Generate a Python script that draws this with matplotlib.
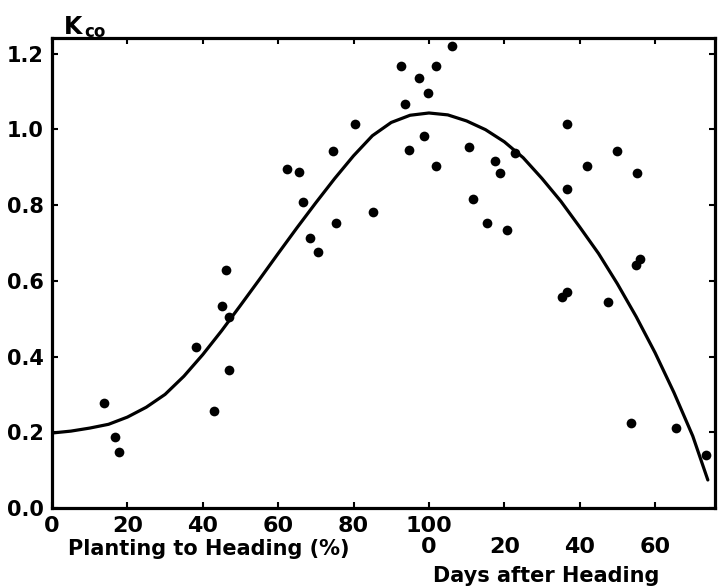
import matplotlib
matplotlib.use("Agg")
import matplotlib.pyplot as plt

# Combined growth scale: 0-100 = planting to heading (%), 100+d = d days after heading
point_x = [13.8, 16.7, 17.8, 38.2, 43.0, 45.1, 46.2, 46.9, 46.9,
           62.3, 65.5, 66.6, 68.4, 70.6, 74.5, 75.3, 80.4, 85.1,
           92.6, 93.6, 94.7, 97.3, 98.7, 99.7, 101.9, 101.9, 106.1,
           110.6, 111.7, 115.4, 117.5, 118.8, 120.7, 122.8,
           135.3, 136.6, 136.6, 136.6, 141.9, 147.5, 149.9, 153.6,
           155.2, 154.9, 156.0, 165.5, 173.5]
point_y = [0.277, 0.187, 0.148, 0.425, 0.256, 0.533, 0.628, 0.504, 0.364,
           0.895, 0.887, 0.808, 0.713, 0.676, 0.943, 0.752, 1.014, 0.781,
           1.167, 1.067, 0.945, 1.135, 0.982, 1.096, 1.167, 0.903, 1.220,
           0.953, 0.816, 0.752, 0.916, 0.884, 0.734, 0.937,
           0.557, 1.014, 0.842, 0.570, 0.903, 0.544, 0.943, 0.224,
           0.884, 0.642, 0.657, 0.211, 0.140]

curve_x = [0, 5, 10, 15, 20, 25, 30, 35, 40, 45, 50, 55, 60, 65, 70, 75, 80,
           85, 90, 95, 100, 105, 110, 115, 120, 125, 130, 135, 140, 145, 150,
           155, 160, 165, 170, 174]
curve_y = [0.198, 0.203, 0.211, 0.221, 0.240, 0.266, 0.300, 0.348, 0.405,
           0.468, 0.535, 0.603, 0.672, 0.740, 0.806, 0.870, 0.930, 0.983,
           1.018, 1.037, 1.043, 1.038, 1.022, 0.999, 0.967, 0.925, 0.870,
           0.810, 0.742, 0.672, 0.592, 0.505, 0.410, 0.305, 0.190, 0.074]

xtick_pos = [0, 20, 40, 60, 80, 100, 120, 140, 160]
xtick_labels = ["0", "20", "40", "60", "80", "100\n0", "\n20", "\n40", "\n60"]
ytick_pos = [0.0, 0.2, 0.4, 0.6, 0.8, 1.0, 1.2]
ytick_labels = ["0.0", "0.2", "0.4", "0.6", "0.8", "1.0", "1.2"]

plt.rcParams['font.family'] = ['DejaVu Sans']
fig = plt.figure(figsize=(7.18, 5.88), dpi=100)
ax = fig.add_axes([52/718, 1-508/588, (715-52)/718, (508-38)/588])

ax.plot(curve_x, curve_y, color='black', lw=2.3, solid_capstyle='round',
        solid_joinstyle='round')
ax.plot(point_x, point_y, 'o', color='black', ms=7, mew=0)

ax.set_xlim(0, 175.9)
ax.set_ylim(0, 1.241)
for s in ax.spines.values():
    s.set_linewidth(2.3)

ax.set_xticks(xtick_pos)
ax.set_xticklabels(xtick_labels, fontsize=16, fontweight='bold', linespacing=1.05)
ax.set_yticks(ytick_pos)
ax.set_yticklabels(ytick_labels, fontsize=15, fontweight='bold')
ax.tick_params(direction='in', length=4, width=1.5, top=True, right=True, pad=6)

fig.text(64/718, 1-27/588, "K", fontsize=17, fontweight='bold', va='center', ha='left')
fig.text(84/718, 1-32/588, "co", fontsize=12, fontweight='bold', va='center', ha='left')
fig.text(209/718, 1-549/588, "Planting to Heading (%)", fontsize=15, fontweight='bold',
         ha='center', va='center')
fig.text(546/718, 1-576/588, "Days after Heading", fontsize=15, fontweight='bold',
         ha='center', va='center')

fig.savefig("out.png", dpi=100)
